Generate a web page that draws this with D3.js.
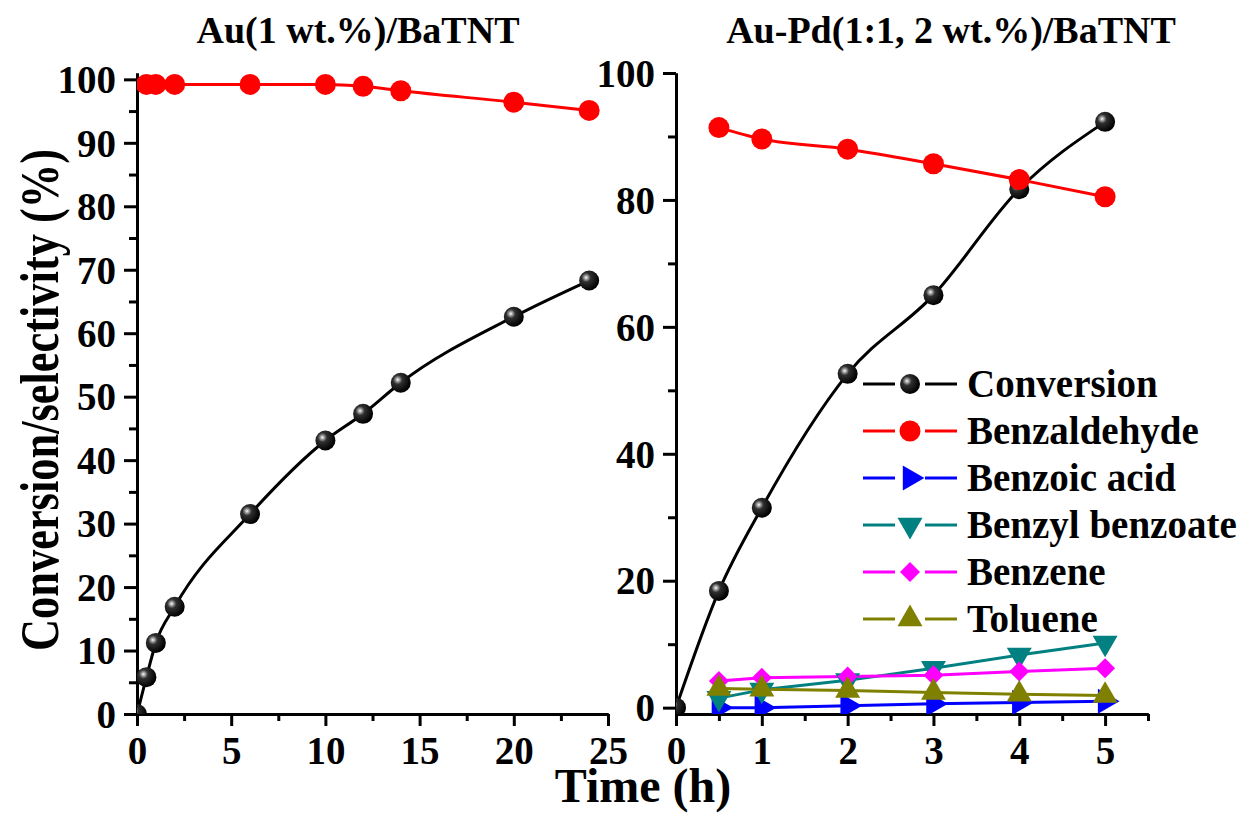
<!DOCTYPE html>
<html>
<head>
<meta charset="utf-8">
<script src="https://cdn.jsdelivr.net/npm/d3@7"></script>
<style>
  body { margin: 0; background: #fff; }
  svg text { font-family: "Liberation Serif", "Times New Roman", serif; font-weight: bold; fill: #000; }
  .axis path, .axis line { stroke: #000; stroke-width: 3; }
</style>
</head>
<body>
<div id="chart"></div>
<script>
// left panel: Au(1 wt.%)/BaTNT
var auTime = [0, 0.5, 1, 2, 6, 10, 12, 14, 20, 24];
var auConversion = [0, 5.8, 11.2, 16.9, 31.5, 43.1, 47.3, 52.2, 62.6, 68.3];
var auSelTime = [0.5, 1, 2, 6, 10, 12, 14, 20, 24];
var auBenzaldehyde = [99.2, 99.2, 99.2, 99.2, 99.2, 98.9, 98.2, 96.4, 95.1];

// right panel: Au-Pd(1:1, 2 wt.%)/BaTNT
var pdTime = [0, 0.5, 1, 2, 3, 4, 5];
var pdConversion = [0, 18.4, 31.5, 52.6, 65.0, 81.7, 92.3];
var pdSelTime = [0.5, 1, 2, 3, 4, 5];
var pdBenzaldehyde = [91.4, 89.6, 88.0, 85.7, 83.2, 80.5];
var pdBenzoicAcid = [0, 0, 0.3, 0.6, 0.8, 1.0];
var pdBenzylBenzoate = [1.5, 2.8, 4.3, 6.2, 8.3, 10.2];
var pdBenzene = [4.2, 4.7, 4.9, 5.1, 5.7, 6.2];
var pdToluene = [3.0, 2.9, 2.7, 2.4, 2.1, 1.9];

var seriesNames = ["Conversion", "Benzaldehyde", "Benzoic acid", "Benzyl benzoate", "Benzene", "Toluene"];
var seriesColours = ["#000000", "#ff0000", "#0000ff", "#008080", "#ff00ff", "#808000"];
var seriesShapes = ["ball", "circle", "triRight", "triDown", "diamond", "triUp"];

var leftXTicks = [0, 5, 10, 15, 20, 25];
var leftYTicks = [0, 10, 20, 30, 40, 50, 60, 70, 80, 90, 100];
var rightXTicks = [0, 1, 2, 3, 4, 5];
var rightYTicks = [0, 20, 40, 60, 80, 100];

var width = 1245, height = 814;

var svg = d3.select("#chart")
            .append("svg")
              .attr("width", width)
              .attr("height", height);

// sphere gradient for conversion markers
var defs = svg.append("defs");
var grad = defs.append("radialGradient")
                .attr("id", "ball")
                .attr("cx", "35%").attr("cy", "35%")
                .attr("fx", "35%").attr("fy", "35%")
                .attr("r", "65%");
grad.append("stop").attr("offset", "0%").attr("stop-color", "#ffffff");
grad.append("stop").attr("offset", "12%").attr("stop-color", "#b0b0b0");
grad.append("stop").attr("offset", "35%").attr("stop-color", "#303030");
grad.append("stop").attr("offset", "100%").attr("stop-color", "#000000");

// draw one marker at x,y
function marker(g, shape, colour, x, y) {
  if (shape === "ball") {
    g.append("circle").attr("cx", x).attr("cy", y).attr("r", 10).attr("fill", "url(#ball)");
  } else if (shape === "circle") {
    g.append("circle").attr("cx", x).attr("cy", y).attr("r", 10.5).attr("fill", colour);
  } else {
    var type = shape === "diamond" ? d3.symbolSquare : d3.symbolTriangle;
    var size = shape === "diamond" ? 200 : 270;
    var rot = {triUp: 0, triRight: 90, triDown: 180, diamond: 45}[shape];
    g.append("path")
      .attr("d", d3.symbol().type(type).size(size)())
      .attr("transform", "translate(" + x + "," + y + ") rotate(" + rot + ")")
      .attr("fill", colour);
  }
}

function panel(opts) {
  var x = d3.scaleLinear().domain(opts.xDomain).range(opts.xRange);
  var y = d3.scaleLinear().domain(opts.yDomain).range([714, opts.yTop]);

  var g = svg.append("g");
  var clipId = "clip" + opts.id;
  defs.append("clipPath").attr("id", clipId)
      .append("rect")
        .attr("x", opts.xRange[0]).attr("y", opts.yTop - 15)
        .attr("width", opts.xRange[1] - opts.xRange[0] + 15)
        .attr("height", 714 - opts.yTop + 15);

  // minor ticks
  g.append("g").attr("class", "axis")
    .attr("transform", "translate(0,714)")
    .call(d3.axisBottom(x).tickValues(opts.xMinor).tickSize(7).tickSizeOuter(0).tickFormat(""));
  g.append("g").attr("class", "axis")
    .attr("transform", "translate(" + opts.xRange[0] + ",0)")
    .call(d3.axisLeft(y).tickValues(opts.yMinor).tickSize(8).tickSizeOuter(0).tickFormat(""));

  // major ticks
  var xa = g.append("g").attr("class", "axis")
    .attr("transform", "translate(0,714)")
    .call(d3.axisBottom(x).tickValues(opts.xTicks).tickSize(12).tickSizeOuter(0)
            .tickPadding(10).tickFormat(d3.format("d")));
  var ya = g.append("g").attr("class", "axis")
    .attr("transform", "translate(" + opts.xRange[0] + ",0)")
    .call(d3.axisLeft(y).tickValues(opts.yTicks).tickSize(13).tickSizeOuter(0)
            .tickPadding(8).tickFormat(d3.format("d")));
  g.selectAll(".axis text").style("font-size", "39px");
  g.selectAll(".axis").attr("font-family", null).attr("font-size", null);
  ya.selectAll("text").attr("dy", "0.34em");

  // title
  g.append("text")
    .attr("x", opts.titleX).attr("y", 43)
    .attr("text-anchor", "middle")
    .style("font-size", "38px")
    .text(opts.title);

  var plot = g.append("g").attr("clip-path", "url(#" + clipId + ")");

  opts.series.forEach(function(s) {
    var pts = s.t.map(function(t, i) { return [x(t), y(s.v[i])]; });
    plot.append("path")
        .attr("d", d3.line().curve(s.smooth ? d3.curveMonotoneX : d3.curveLinear)(pts))
        .attr("fill", "none")
        .attr("stroke", seriesColours[s.k])
        .attr("stroke-width", 3);
  });
  opts.series.forEach(function(s) {
    s.t.forEach(function(t, i) {
      marker(plot, seriesShapes[s.k], seriesColours[s.k], x(t), y(s.v[i]));
    });
  });
}

panel({
  id: "L",
  xDomain: [0, 25], xRange: [137, 608],
  yDomain: [0, 101], yTop: 73,
  xTicks: leftXTicks, xMinor: [2.5, 7.5, 12.5, 17.5, 22.5],
  yTicks: leftYTicks, yMinor: [5, 15, 25, 35, 45, 55, 65, 75, 85, 95],
  title: "Au(1 wt.%)/BaTNT", titleX: 358,
  series: [
    {k: 0, t: auTime, v: auConversion, smooth: true},
    {k: 1, t: auSelTime, v: auBenzaldehyde, smooth: true}
  ]
});

panel({
  id: "R",
  xDomain: [0, 5.5], xRange: [676, 1148],
  yDomain: [-1, 100], yTop: 73,
  xTicks: rightXTicks, xMinor: [0.5, 1.5, 2.5, 3.5, 4.5, 5.5],
  yTicks: rightYTicks, yMinor: [10, 30, 50, 70, 90],
  title: "Au-Pd(1:1, 2 wt.%)/BaTNT", titleX: 951,
  series: [
    {k: 0, t: pdTime, v: pdConversion, smooth: true},
    {k: 1, t: pdSelTime, v: pdBenzaldehyde, smooth: true},
    {k: 2, t: pdSelTime, v: pdBenzoicAcid},
    {k: 3, t: pdSelTime, v: pdBenzylBenzoate},
    {k: 4, t: pdSelTime, v: pdBenzene},
    {k: 5, t: pdSelTime, v: pdToluene}
  ]
});

// legend
var legend = svg.append("g").attr("transform", "translate(863,384)");
var rows = legend.selectAll("g")
                 .data(seriesNames)
                 .enter()
                .append("g")
                 .attr("transform", function(d, i) { return "translate(0," + (i * 47) + ")"; });
rows.append("line").attr("x1", 0).attr("x2", 32).attr("y1", 0).attr("y2", 0)
    .attr("stroke", function(d, i) { return seriesColours[i]; }).attr("stroke-width", 3);
rows.append("line").attr("x1", 62).attr("x2", 94).attr("y1", 0).attr("y2", 0)
    .attr("stroke", function(d, i) { return seriesColours[i]; }).attr("stroke-width", 3);
rows.each(function(d, i) {
  marker(d3.select(this), seriesShapes[i], seriesColours[i], 47, 0);
});
rows.append("text")
    .attr("x", 104).attr("y", 0).attr("dy", "0.33em")
    .style("font-size", "39px")
    .text(function(d) { return d; });

// axis titles
svg.append("text")
    .attr("transform", "translate(58,400) rotate(-90)")
    .attr("text-anchor", "middle")
    .attr("textLength", 502)
    .attr("lengthAdjust", "spacingAndGlyphs")
    .style("font-size", "54px")
    .text("Conversion/selectivity (%)");

svg.append("text")
    .attr("x", 643).attr("y", 802)
    .attr("text-anchor", "middle")
    .style("font-size", "48px")
    .text("Time (h)");
</script>
</body>
</html>
